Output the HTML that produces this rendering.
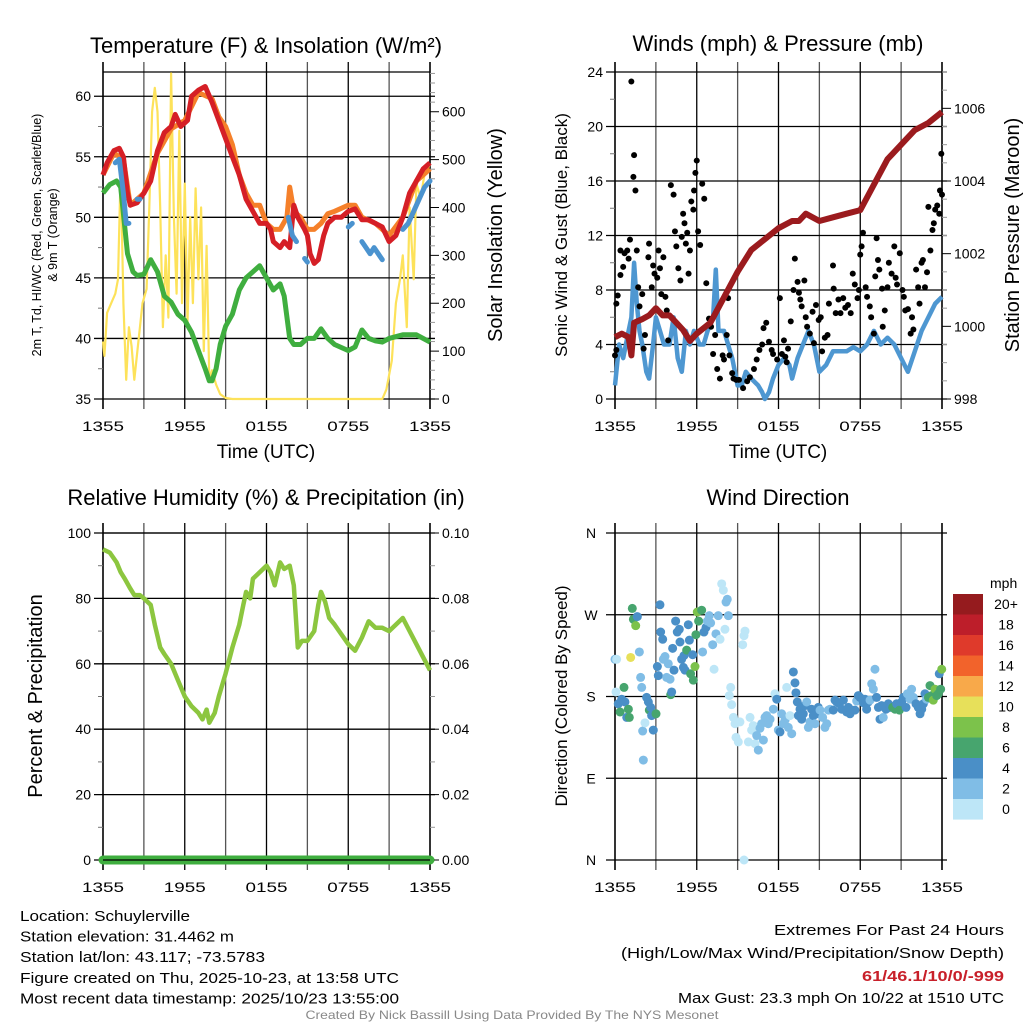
<!DOCTYPE html>
<html><head><meta charset="utf-8"><style>
html,body{margin:0;padding:0;background:#fff;}
svg{display:block;font-family:"Liberation Sans",sans-serif;}
</style></head><body>
<svg id="c" width="1024" height="1024" viewBox="0 0 1024 1024"></svg>
<script>
// ---------- DATA ----------
// Temperature panel (hours since 1355 UTC)
const redT = [0,53.5,0.3,54.5,0.8,55.5,1.2,55.7,1.5,55,1.8,52,2,51,2.5,51.2,3,52,3.5,53,4,55.5,4.5,57,5,57.5,5.3,58.5,5.7,57.5,6.2,58,6.5,60,7,60.5,7.5,60.8,8,59.5,8.5,58,9,56.5,9.5,55,10,53.5,10.5,51.5,11,50.5,11.5,49.5,12,49.5,12.3,49,12.5,48,13,47.5,13.3,48,13.7,47.5,14,51,14.3,50,14.8,49,15,48.5,15.2,47,15.5,46.2,15.8,46.5,16.2,48.5,16.5,49.5,17,50,17.5,50,18,50.5,18.5,50.7,19,49.8,19.5,49.8,20,49.5,20.5,49.2,21,48,21.5,48.5,22,50,22.5,52,23,53,23.5,54,24,54.5];
const orangeT = [0,53.5,0.8,55.3,1.5,54.8,2,51,3,52,4,55.3,5,57.3,6,58,7,60.3,8,59.8,8.5,58.3,9,57.5,9.5,56,10,53.5,10.5,52,11,51,11.5,51,12,49.5,12.5,49,13,49,13.5,50,13.7,52.5,14,50.5,14.5,50,15,49,15.5,49,16,49.5,16.5,50.3,17,50.5,18,51,18.5,51,19,50,20,49.5,21,48.5,22,50,23,53,24,54];
const blueHI = [[0.9,54.5,1.2,54.8,1.5,52,1.7,49.5,1.9,49.5],[2.5,51.5,2.7,51.5],[13.6,50,13.9,48.5,14.2,48],[14.8,46.6,15,46.3],[18,49.2,18.3,49.5],[19,48,19.3,47.5,19.6,47,19.9,47.5,20.2,47,20.5,46.5],[22,49,22.4,49.5,22.8,50.5,23.2,51.5,23.6,52.5,24,53]];
const greenTd = [0,52,0.5,52.7,1,53,1.3,52.5,1.8,47,2.2,45.5,2.5,45.2,3,45.3,3.5,46.5,4,45.5,4.5,43.5,5,43,5.5,42,6,41.5,6.5,40.5,7,39,7.5,37.5,7.8,36.5,8,36.5,8.3,37.5,8.6,39.5,9,41,9.5,42,10,44,10.5,45,11,45.5,11.5,46,12,45,12.5,44,13,44.5,13.3,43.5,13.7,40,14,39.5,14.5,39.5,15,40,15.5,40,16,40.8,16.5,40,17,39.5,18,39,18.5,39.3,19,40.7,19.5,40,20,39.8,20.5,39.7,21,40,22,40.3,23,40.3,24,39.7];
const solar = [0,120,0.1,90,0.3,180,0.6,200,0.9,220,1.1,250,1.3,480,1.5,200,1.7,40,1.9,150,2.1,110,2.3,40,2.6,120,2.9,200,3.2,230,3.4,400,3.6,600,3.8,650,4,600,4.2,400,4.4,150,4.6,300,4.8,170,5,680,5.2,380,5.4,220,5.6,560,5.8,200,6,450,6.2,160,6.4,380,6.6,200,6.8,440,7,250,7.2,400,7.4,100,7.6,320,7.8,40,8,60,8.3,30,8.6,10,9,2,9.5,0,20.5,0,20.8,20,21.2,80,21.5,200,21.8,250,22,300,22.3,150,22.5,400,22.8,250,23,450,23.3,420,23.6,470,24,490];
// Winds panel
const pressure = [0,999.7,0.5,999.8,1,999.7,1.2,999.2,1.4,1000.1,2,1000.2,2.5,1000.3,3,1000.5,3.5,1000.3,4,1000.3,4.5,1000.1,5,999.9,5.5,999.6,6,999.8,7,1000.1,8,1000.8,9,1001.5,10,1002.1,11,1002.4,12,1002.7,13,1002.9,13.5,1002.9,14,1003.1,15,1002.9,16,1003.0,17,1003.1,18,1003.2,19,1003.9,20,1004.6,21,1005.0,22,1005.4,23,1005.6,24,1005.9];
const wind = [0,1,0.3,4,0.6,3,1,5,1.2,6,1.4,10,1.6,7,1.8,5,2,4,2.3,2,2.5,1.5,2.8,4,3,6,3.3,5,3.6,4,4,4,4.3,6,4.6,3,4.9,2,5.2,5,5.5,4,5.8,5,6.2,4,6.5,4,6.8,5,7.2,6,7.4,9.5,7.6,5,8,5,8.3,4,8.6,3,9,1,9.3,1,9.6,2,10,1.5,10.5,1,10.8,0.5,11,0,11.3,0.5,11.6,1.5,12,2.5,12.4,3,12.8,2.5,13,1.5,13.4,3,13.8,4,14.2,5,14.6,4,15,2,15.5,2.5,16,3.5,16.5,3.5,17,3.5,17.5,3.8,18,3.5,18.5,4,19,5,19.5,4,20,4.5,20.5,4,21,3,21.5,2,22,3.5,22.5,5,23,6,23.5,7,24,7.5];
const gust = [0,3.2,0.1,3.6,0.1,7,0.2,7.6,0.4,9.1,0.4,10.9,0.6,9.7,0.7,10.7,0.9,10.9,1,10.3,1.1,11.7,1.2,23.3,1.35,16.3,1.4,17.9,1.5,15.3,1.6,10.9,1.7,8.2,1.8,6.8,2,7.7,2.1,3.7,2.2,4.7,2.45,10.4,2.5,11.4,2.7,8.2,2.8,9.8,2.9,9.2,3.1,8.9,3.2,10.9,3.3,9.6,3.4,7.7,3.55,10.4,3.7,7.5,3.8,6.5,3.9,4.3,4.1,15.7,4.3,15,4.4,12.3,4.5,11.2,4.65,9.6,4.8,8.7,4.9,11.9,5,13.6,5.1,12.9,5.2,11.4,5.3,12.2,5.4,9.2,5.5,10.9,5.6,14.5,5.75,13.9,5.8,15.3,5.9,16.6,6,17.5,6.1,12.3,6.25,11.3,6.4,15.8,6.55,14.7,6.7,8.5,6.9,5.9,7.05,5.3,7.2,3.3,7.35,4.7,7.5,2.2,7.7,1.5,7.9,3.2,8,2.9,8.2,4.7,8.3,7.4,8.4,3.2,8.6,1.9,8.7,1.5,8.9,1.4,9.1,1.4,9.4,0.8,9.7,1.3,9.9,1.6,10.2,2.2,10.4,2.9,10.6,3.6,10.8,4,10.9,5.2,11.1,5.6,11.3,4.2,11.5,3.6,11.6,3.3,11.9,2.9,12.1,7.4,12.25,3.3,12.4,4.3,12.5,3.1,12.6,2.7,12.7,3.7,12.9,5.7,13.1,8,13.2,10.3,13.4,8.6,13.5,7.8,13.6,7.3,13.7,6.8,13.9,8.7,14,6,14.1,5.3,14.3,4.8,14.5,6.4,14.6,4.1,14.75,6.9,14.95,5.8,15.1,6,15.2,3.5,15.4,4.5,15.6,4.7,15.7,7,16,9.8,16.05,8.1,16.2,6.3,16.4,7.3,16.55,6.3,16.75,7.4,16.9,6.7,17.1,6.9,17.3,6.3,17.45,9.2,17.6,8.4,17.8,7.4,17.9,8,18,10.6,18.1,11.2,18.2,12.2,18.4,8.2,18.5,7.5,18.7,6.8,18.8,6,19,4.8,19.1,9,19.2,11.8,19.3,10.2,19.4,9.5,19.6,8.1,19.65,5.3,19.8,6.5,20,8.2,20.1,10,20.3,9.2,20.5,11.2,20.6,8.9,20.7,8.4,20.9,10.7,21.1,8,21.2,7.5,21.3,6.5,21.5,6.6,21.7,4.8,21.8,6,21.9,5.1,22.1,9.5,22.25,8.2,22.35,7,22.5,10,22.6,10.2,22.75,8.2,22.9,9.3,23,14.1,23.15,10.9,23.3,12.4,23.4,12.9,23.5,13.9,23.65,14.2,23.8,13.6,23.85,15.3,23.95,18,24,15];
// RH panel
const rh = [0,95,0.5,94,1,91,1.3,88,1.6,86,2,83,2.3,81,2.7,81,3,80,3.5,78,3.8,72,4.2,65,4.5,63,5,60,5.5,55,6,50,6.5,47,7,45,7.3,43,7.6,46,7.8,42,8.2,45,8.5,50,9,57,9.5,65,10,72,10.3,78,10.5,82,10.8,80,11,86,11.5,88,12,90,12.3,88,12.6,84,13,91,13.3,89,13.7,90,14,84,14.3,65,14.6,67,15,67,15.5,70,15.8,78,16,82,16.3,79,16.6,74,17,72,17.5,69,18,66,18.5,64,19,68,19.5,73,20,71,20.5,71,21,70,21.5,72,22,74,22.5,70,23,66,23.5,62,24,58];
const precip = [0,0,24,0];
// Wind direction panel
const dirTimes = [0,0.12,0.07,0.24,0.37,0.49,0.66,0.73,0.86,0.98,1.05,1.15,1.27,1.35,1.52,1.64,1.79,1.88,1.96,2.03,2.08,2.2,2.32,2.45,2.52,2.62,2.69,2.81,2.94,3.01,3.11,3.18,3.3,3.35,3.5,3.55,3.67,3.79,3.91,4.04,4.09,4.16,4.23,4.33,4.45,4.57,4.72,4.77,4.89,5.02,5.06,5.14,5.26,5.38,5.46,5.55,5.7,5.75,5.87,5.94,6.04,6.14,6.36,6.43,6.53,6.68,6.78,6.92,7.02,7.17,7.27,7.41,7.58,7.71,7.83,7.95,8.07,8.15,8.24,8.32,8.39,8.49,8.56,8.69,8.81,8.88,9.05,9.17,9.37,9.47,9.54,9.79,9.91,10.03,10.15,10.28,10.4,10.52,10.64,10.76,10.89,11.01,11.13,11.25,11.38,11.62,11.74,11.87,11.99,12.11,12.23,12.35,12.48,12.6,12.72,12.84,12.97,13.09,13.21,13.28,13.38,13.46,13.58,13.7,13.82,13.94,14.07,14.19,14.31,14.43,14.56,14.68,14.8,14.92,15.05,15.24,15.41,15.54,15.66,15.78,16.02,16.15,16.27,16.47,16.64,16.76,17,17.13,17.25,17.37,17.61,17.74,17.86,17.98,18.23,18.35,18.47,18.59,18.72,18.84,18.96,19.08,19.2,19.33,19.45,19.57,19.69,19.89,20.06,20.18,20.38,20.55,20.67,20.87,21.04,21.16,21.36,21.46,21.65,21.77,21.9,22.09,22.26,22.39,22.51,22.63,22.75,22.87,23,23.12,23.24,23.36,23.49,23.61,23.73,23.8,23.9,23.98,9.47];
const dirs = [221,221,185,172,163,177,190,174,157,166,157,223,277,265,258,268,229,201,190,142,110,151,179,174,165,168,159,143,161,161,213,203,281,251,243,221,224,201,216,199,182,185,233,209,263,251,254,240,221,212,225,209,231,259,242,205,226,198,213,248,273,263,275,229,251,256,263,269,261,237,210,249,269,243,304,297,254,284,287,269,181,190,171,157,150,135,130,152,237,247,252,130,157,143,148,128,137,121,145,150,132,157,159,150,155,166,183,177,143,141,161,150,154,190,146,159,139,207,195,184,174,159,166,155,161,170,174,146,152,166,159,150,161,168,165,157,146,150,165,166,165,176,174,172,166,176,163,168,161,165,165,175,181,179,173,177,166,174,176,194,188,210,179,168,155,170,157,166,172,168,168,166,172,165,174,179,168,183,177,188,179,172,168,161,166,172,183,177,179,192,181,176,188,181,183,205,188,210,0];
const dirSpeeds = [3,1,1,5,7,5,7,5,5,7,7,11,7,7,9,5,3,3,3,3,3,1,5,5,7,5,5,5,5,7,5,5,5,5,5,3,3,3,3,3,7,5,5,5,5,5,5,5,5,5,5,5,7,5,5,7,5,7,9,7,9,7,7,3,5,5,3,3,3,3,1,3,3,1,1,1,1,3,3,3,1,1,1,1,1,1,1,1,1,1,1,1,1,1,1,1,3,3,3,3,3,3,3,3,3,3,1,5,3,5,3,3,3,1,3,1,3,5,5,5,5,5,5,5,5,5,3,3,3,5,5,3,5,5,3,3,3,3,3,3,5,5,5,5,5,5,5,5,5,5,5,3,5,5,5,5,5,5,3,3,3,3,5,5,5,5,3,5,5,5,7,7,5,7,5,5,5,3,3,3,3,5,5,5,5,5,5,3,7,7,7,9,9,7,7,5,7,9,1];
const speedLabels = ["0","2","4","6","8","10","12","14","16","18","20+"];
const speedColors = ["#bde6f7","#80bde6","#4a8fc7","#47a56e","#7cc24b","#e7e05a","#f8a94a","#f2632b","#df3a2b","#bd1e2a","#951b1e"];
const timeLabels = ["1355","1955","0155","0755","1355"];

// ---------- HELPERS ----------
const svg = document.getElementById('c');
const NS = 'http://www.w3.org/2000/svg';
function mk(tag, attrs, parent, name, text) {
  const e = document.createElementNS(NS, tag);
  for (const k in attrs) e.setAttribute(k, attrs[k]);
  
  
  if (text !== undefined) e.textContent = text;
  (parent || svg).appendChild(e);
  return e;
}
function path(arr, fx, fy) {
  let d = '';
  for (let i = 0; i < arr.length; i += 2) d += (i ? 'L' : 'M') + fx(arr[i]).toFixed(1) + ',' + fy(arr[i + 1]).toFixed(1);
  return d;
}
function panelFrame(x0, y0, w, h, name, opts) {
  const g = mk('g', {}, svg, name);
  const fx = t => x0 + t / 24 * w;
  // vertical grid
  for (let i = 0; i <= 8; i++) {
    const x = fx(i * 3);
    const major = i % 2 === 0;
    mk('line', {x1: x, x2: x, y1: y0 - 10, y2: y0 + h + 10, stroke: major ? '#000' : '#555', 'stroke-width': (i === 0 || i === 8) ? 1.6 : 1.3}, g, 'x-grid-line');
  }
  for (let i = 0; i < 5; i++) {
    mk('text', {x: fx(i * 6), y: y0 + h + 32, 'font-size': 14, 'text-anchor': 'middle', textLength: 42, lengthAdjust: 'spacingAndGlyphs'}, g, 'x-tick-label', timeLabels[i]);
  }
  return {g, fx};
}
function leftAxis(g, x0, y0, w, h, lo, hi, step, minor, labels, fy, name) {
  for (let v = lo; v <= hi + 1e-9; v += minor) {
    const y = fy(v);
    const isMajor = Math.abs((v - lo) / step - Math.round((v - lo) / step)) < 1e-6;
    if (isMajor) mk('line', {x1: x0 - 9, x2: x0 + w + 5, y1: y, y2: y, stroke: '#000', 'stroke-width': 1.3}, g, 'y-grid-line');
    else mk('line', {x1: x0 - 5, x2: x0, y1: y, y2: y, stroke: '#777', 'stroke-width': 1}, g, 'y-minor-tick');
  }
}
function rightAxis(g, x1, lo, hi, step, minor, fy, fmt, name) {
  for (let v = lo; v <= hi + 1e-9; v += minor) {
    const y = fy(v);
    const isMajor = Math.abs((v - lo) / step - Math.round((v - lo) / step)) < 1e-6;
    mk('line', {x1: x1, x2: x1 + (isMajor ? 9 : 5), y1: y, y2: y, stroke: isMajor ? '#000' : '#999', 'stroke-width': 1}, g, 'right-tick');
    if (isMajor) mk('text', {x: x1 + 12, y: y + 5, 'font-size': 14}, g, name, fmt(v));
  }
}

// ---------- PANEL 1: Temperature ----------
(function () {
  const x0 = 103, y0 = 72, w = 327, h = 327;
  const {g, fx} = panelFrame(x0, y0, w, h, 'temperature-panel');
  const fy = v => y0 + h - (v - 35) / 27 * h;
  const fs = v => y0 + h - v / 683 * h;
  leftAxis(g, x0, y0, w, h, 35, 62, 5, 2.5, null, fy);
  for (let v = 35; v <= 60; v += 5) mk('text', {x: x0 - 12, y: fy(v) + 5, 'font-size': 14, 'text-anchor': 'end'}, g, 'y-tick-label', v);
  mk('line', {x1: x0, x2: x0 + w, y1: y0, y2: y0, stroke: '#000', 'stroke-width': 1.3}, g, 'plot-top');
  rightAxis(g, x0 + w, 0, 680, 100, 20, fs, v => v, 'right-tick-label');
  mk('path', {d: path(solar, fx, fs), fill: 'none', stroke: '#fde25a', 'stroke-width': 2.2, 'stroke-linejoin': 'round'}, g, 'solar-line');
  mk('path', {d: path(greenTd, fx, fy), fill: 'none', stroke: '#3fae3f', 'stroke-width': 5, 'stroke-linejoin': 'round'}, g, 'dewpoint-line');
  mk('path', {d: path(orangeT, fx, fy), fill: 'none', stroke: '#f5802a', 'stroke-width': 5, 'stroke-linejoin': 'round'}, g, 'temp-9m-line');
  mk('path', {d: path(redT, fx, fy), fill: 'none', stroke: '#d51f26', 'stroke-width': 5, 'stroke-linejoin': 'round'}, g, 'temp-2m-line');
  blueHI.forEach(s => mk('path', {d: path(s, fx, fy), fill: 'none', stroke: '#4b93cf', 'stroke-width': 5, 'stroke-linecap': 'round', 'stroke-linejoin': 'round'}, g, 'heat-index-segment'));
  mk('text', {x: 266, y: 53, 'font-size': 22, 'text-anchor': 'middle'}, g, 'chart-title', 'Temperature (F) & Insolation (W/m²)');
  mk('text', {x: 266, y: 458, 'font-size': 19, 'text-anchor': 'middle'}, g, 'x-axis-title', 'Time (UTC)');
  mk('text', {transform: 'translate(41,235) rotate(-90)', 'font-size': 12.5, 'text-anchor': 'middle'}, g, 'y-axis-title', '2m T, Td, HI/WC (Red, Green, Scarlet/Blue)');
  mk('text', {transform: 'translate(57,235) rotate(-90)', 'font-size': 12.5, 'text-anchor': 'middle'}, g, 'y-axis-title-line2', '& 9m T (Orange)');
  mk('text', {transform: 'translate(502,235) rotate(-90)', 'font-size': 20, 'text-anchor': 'middle'}, g, 'right-axis-title', 'Solar Insolation (Yellow)');
})();

// ---------- PANEL 2: Winds ----------
(function () {
  const x0 = 615, y0 = 72, w = 327, h = 327;
  const {g, fx} = panelFrame(x0, y0, w, h, 'winds-panel');
  const fy = v => y0 + h - v / 24 * h;
  const fp = v => y0 + h - (v - 998) / 9 * h;
  leftAxis(g, x0, y0, w, h, 0, 24, 4, 2, null, fy);
  for (let v = 0; v <= 24; v += 4) mk('text', {x: x0 - 12, y: fy(v) + 5, 'font-size': 14, 'text-anchor': 'end'}, g, 'y-tick-label', v);
  rightAxis(g, x0 + w, 998, 1007, 2, 0.5, fp, v => v, 'right-tick-label');
  mk('path', {d: path(wind, fx, fy), fill: 'none', stroke: '#4e97d1', 'stroke-width': 4.5, 'stroke-linejoin': 'round'}, g, 'wind-speed-line');
  for (let i = 0; i < gust.length; i += 2) {
    const c = mk('circle', {cx: fx(gust[i]), cy: fy(gust[i + 1]), r: 3, fill: '#000'}, g, 'gust-point');
  }
  mk('path', {d: path(pressure, fx, fp), fill: 'none', stroke: '#9b1b1e', 'stroke-width': 6, 'stroke-linejoin': 'round'}, g, 'pressure-line');
  mk('text', {x: 778, y: 51, 'font-size': 22, 'text-anchor': 'middle'}, g, 'chart-title', 'Winds (mph) & Pressure (mb)');
  mk('text', {x: 778, y: 458, 'font-size': 19, 'text-anchor': 'middle'}, g, 'x-axis-title', 'Time (UTC)');
  mk('text', {transform: 'translate(567,235) rotate(-90)', 'font-size': 17, 'text-anchor': 'middle'}, g, 'y-axis-title', 'Sonic Wind & Gust (Blue, Black)');
  mk('text', {transform: 'translate(1019,235) rotate(-90)', 'font-size': 20, 'text-anchor': 'middle'}, g, 'right-axis-title', 'Station Pressure (Maroon)');
})();

// ---------- PANEL 3: RH ----------
(function () {
  const x0 = 103, y0 = 533, w = 327, h = 327;
  const {g, fx} = panelFrame(x0, y0, w, h, 'humidity-panel');
  const fy = v => y0 + h - v / 100 * h;
  const fq = v => y0 + h - v / 0.1 * h;
  leftAxis(g, x0, y0, w, h, 0, 100, 20, 10, null, fy);
  mk('line', {x1: x0, x2: x0 + w, y1: y0, y2: y0, stroke: '#000', 'stroke-width': 1.3}, g, 'plot-top');
  for (let v = 0; v <= 100; v += 20) mk('text', {x: x0 - 12, y: fy(v) + 5, 'font-size': 14, 'text-anchor': 'end'}, g, 'y-tick-label', v);
  rightAxis(g, x0 + w, 0, 0.1, 0.02, 0.01, fq, v => v.toFixed(2), 'right-tick-label');
  mk('path', {d: path(precip, fx, fq), fill: 'none', stroke: '#3fae3f', 'stroke-width': 9, 'stroke-linecap': 'round'}, g, 'precip-line');
  mk('line', {x1: x0, x2: x0 + w, y1: y0 + h, y2: y0 + h, stroke: '#000', 'stroke-width': 1.3}, g, 'x-axis-line');
  mk('path', {d: path(rh, fx, fy), fill: 'none', stroke: '#8cc63f', 'stroke-width': 4.5, 'stroke-linejoin': 'round'}, g, 'rh-line');
  mk('text', {x: 266, y: 505, 'font-size': 22, 'text-anchor': 'middle'}, g, 'chart-title', 'Relative Humidity (%) & Precipitation (in)');
  mk('text', {transform: 'translate(42,696) rotate(-90)', 'font-size': 20, 'text-anchor': 'middle'}, g, 'y-axis-title', 'Percent & Precipitation');
})();

// ---------- PANEL 4: Wind direction ----------
(function () {
  const x0 = 615, y0 = 533, w = 327, h = 327;
  const {g, fx} = panelFrame(x0, y0, w, h, 'wind-direction-panel');
  const fy = v => y0 + h - v / 360 * h;
  leftAxis(g, x0, y0, w, h, 0, 360, 90, 90, null, fy);
  const dl = ['N', 'E', 'S', 'W', 'N'];
  for (let i = 0; i < 5; i++) mk('text', {x: x0 - 24, y: fy(i * 90) + 5, 'font-size': 14, 'text-anchor': 'middle'}, g, 'y-tick-label', dl[i]);
  for (let i = 0; i < dirTimes.length; i++) {
    const bin = Math.min(10, Math.floor(dirSpeeds[i] / 2));
    mk('circle', {cx: fx(dirTimes[i]), cy: fy(dirs[i]), r: 4.5, fill: speedColors[bin]}, g, 'direction-point');
  }
  mk('text', {x: 778, y: 505, 'font-size': 22, 'text-anchor': 'middle'}, g, 'chart-title', 'Wind Direction');
  mk('text', {transform: 'translate(567,696) rotate(-90)', 'font-size': 17, 'text-anchor': 'middle'}, g, 'y-axis-title', 'Direction (Colored By Speed)');
  const lg = mk('g', {}, svg, 'speed-legend');
  mk('text', {x: 990, y: 588, 'font-size': 14}, lg, 'legend-title', 'mph');
  for (let i = 0; i < 11; i++) {
    const k = 10 - i;
    const y = 594 + i * 20.5;
    mk('rect', {x: 953, y: y, width: 30, height: 20.6, fill: speedColors[k]}, lg, 'legend-swatch');
    mk('text', {x: 1006, y: y + 15, 'font-size': 14, 'text-anchor': 'middle'}, lg, 'legend-label', speedLabels[k]);
  }
})();

// ---------- FOOTER TEXT ----------
const info = [["Location: Schuylerville",170],["Station elevation: 31.4462 m",214],["Station lat/lon: 43.117; -73.5783",245],["Figure created on Thu, 2025-10-23, at 13:58 UTC",379],["Most recent data timestamp: 2025/10/23 13:55:00",379]];
info.forEach((s, i) => mk('text', {x: 20, y: 921 + i * 20.6, 'font-size': 15, textLength: s[1], lengthAdjust: 'spacingAndGlyphs'}, svg, 'station-info-line', s[0]));
mk('text', {x: 1004, y: 935, 'font-size': 15, 'text-anchor': 'end', textLength: 230, lengthAdjust: 'spacingAndGlyphs'}, svg, 'extremes-title', 'Extremes For Past 24 Hours');
mk('text', {x: 1004, y: 958, 'font-size': 15, 'text-anchor': 'end', textLength: 383, lengthAdjust: 'spacingAndGlyphs'}, svg, 'extremes-subtitle', '(High/Low/Max Wind/Precipitation/Snow Depth)');
mk('text', {x: 1004, y: 981, 'font-size': 15, 'text-anchor': 'end', 'font-weight': 'bold', fill: '#c8202a', textLength: 142, lengthAdjust: 'spacingAndGlyphs'}, svg, 'extremes-values', '61/46.1/10/0/-999');
mk('text', {x: 1004, y: 1003, 'font-size': 15, 'text-anchor': 'end', textLength: 326, lengthAdjust: 'spacingAndGlyphs'}, svg, 'max-gust', 'Max Gust: 23.3 mph On 10/22 at 1510 UTC');
mk('text', {x: 512, y: 1019, 'font-size': 12, 'text-anchor': 'middle', fill: '#888', textLength: 413, lengthAdjust: 'spacingAndGlyphs'}, svg, 'credit', 'Created By Nick Bassill Using Data Provided By The NYS Mesonet');
</script>
</body></html>
